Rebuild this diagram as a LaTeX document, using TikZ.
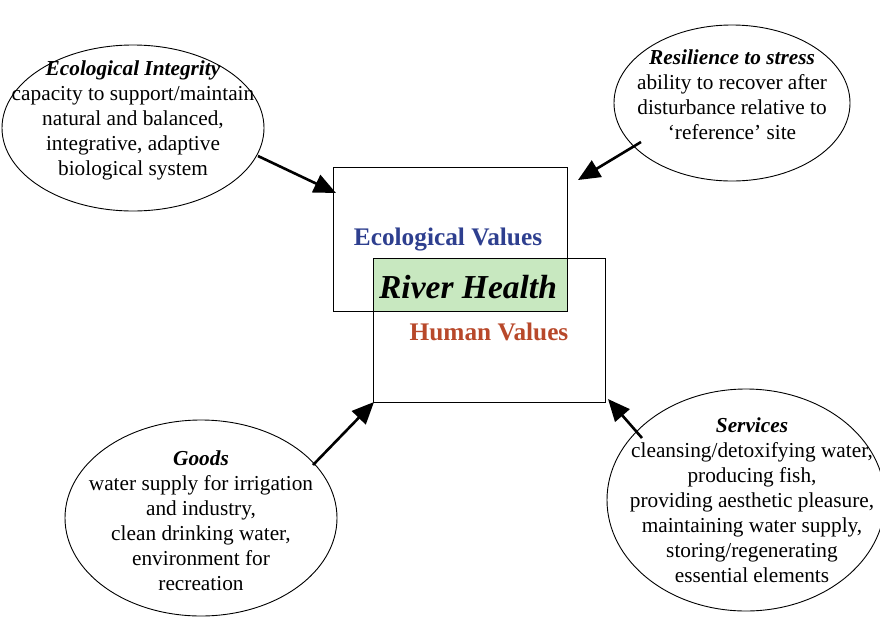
\documentclass[tikz,border=0pt]{standalone}
\usepackage{fontspec}
\setmainfont{Liberation Serif}
\usetikzlibrary{shapes.geometric,arrows.meta}
\begin{document}
\begin{tikzpicture}[x=1pt,y=-1pt,
  bubble/.style={ellipse,draw,line width=0.9pt,inner sep=0pt},
  bubbletext/.style={align=center,inner sep=0pt,font=\fontsize{21.3}{25}\selectfont},
  valbox/.style={draw,line width=0.9pt,inner sep=0pt,anchor=north west},
  conn/.style={line width=2.6pt,-{Triangle[length=22pt,width=19pt]}},
  vallabel/.style={font=\fontsize{25.3}{28}\selectfont\bfseries,inner sep=0pt}]
\useasboundingbox (0,0) rectangle (880,622);
\definecolor{ecoblue}{HTML}{2E3F8F}
\definecolor{humred}{HTML}{B8482A}
\definecolor{rhgreen}{HTML}{C8E8C0}
% boxes
\node[valbox,minimum width=234,minimum height=144] (eco) at (333,167) {};
\node[valbox,minimum width=232,minimum height=144] (hum) at (373,258) {};
\node[valbox,fill=rhgreen,minimum width=194,minimum height=53] (rh) at (373,258) {};
\node[vallabel,text=ecoblue] (ecol) at (448,240) {Ecological Values};
\node[inner sep=0pt,font=\fontsize{33.5}{36}\selectfont\bfseries\itshape] (rhl) at (468,287) {River Health};
\node[vallabel,text=humred] (huml) at (489,332) {Human Values};
% ellipses
\node[bubble,minimum width=262,minimum height=166] (e1) at (133,128) {};
\node[bubbletext] (t1) at (133,120) {\textbf{\textit{Ecological Integrity}}\\capacity to support/maintain\\natural and balanced,\\integrative, adaptive\\biological system};
\node[bubble,minimum width=236,minimum height=156] (e2) at (732,103) {};
\node[bubbletext] (t2) at (732,95) {\textbf{\textit{Resilience to stress}}\\ability to recover after\\disturbance relative to\\`reference' site};
\node[bubble,minimum width=272,minimum height=196] (e3) at (201,518) {};
\node[bubbletext] (t3) at (201,521) {\textbf{\textit{Goods}}\\water supply for irrigation\\and industry,\\clean drinking water,\\environment for\\recreation};
\node[bubble,minimum width=278,minimum height=222] (e4) at (746,500) {};
\node[bubbletext] (t4) at (752,500) {\textbf{\textit{Services}}\\cleansing/detoxifying water,\\producing fish,\\providing aesthetic pleasure,\\maintaining water supply,\\storing/regenerating\\essential elements};
% connector ends
\coordinate (s1) at (258,156);
\coordinate (p1) at (336,193);
\coordinate (s2) at (641,142);
\coordinate (p2) at (578,180);
\coordinate (s3) at (313,465);
\coordinate (p3) at (374,402);
\coordinate (s4) at (642,438);
\coordinate (p4) at (608,399);
\draw[conn] (s1) -- (p1);
\draw[conn] (s2) -- (p2);
\draw[conn] (s3) -- (p3);
\draw[conn] (s4) -- (p4);
\end{tikzpicture}
\end{document}
